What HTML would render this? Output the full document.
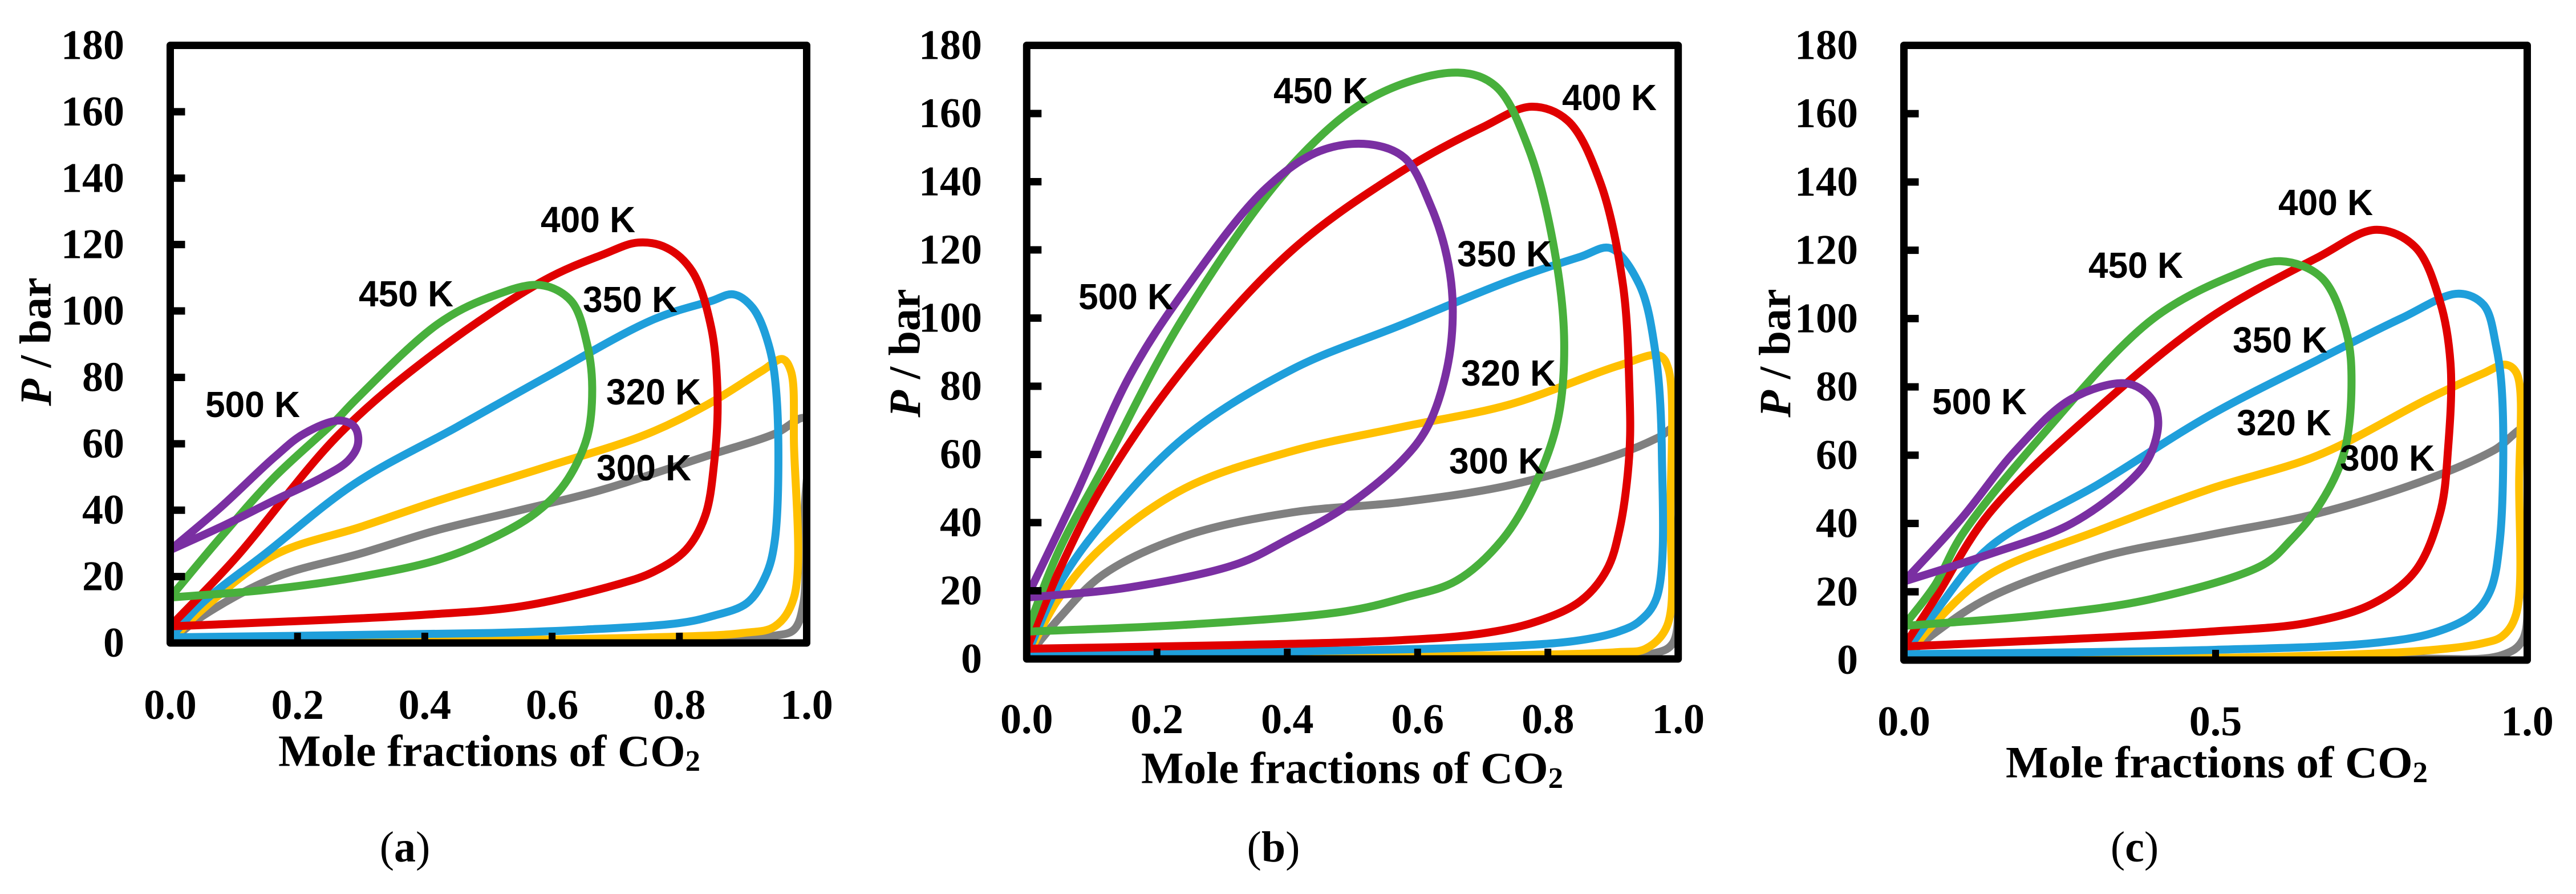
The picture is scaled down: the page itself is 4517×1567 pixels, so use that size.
<!DOCTYPE html>
<html><head><meta charset="utf-8"><style>
html,body{margin:0;padding:0;background:#fff;}
svg{display:block;}
</style></head><body>
<svg id="fig" width="4517" height="1567" viewBox="0 0 4517 1567" xmlns="http://www.w3.org/2000/svg"></svg>
<script>
// ---- data: [mole fraction CO2, pressure bar] loops ----
const temps = ['300 K','320 K','350 K','400 K','450 K','500 K'];
const yTicks = [0,20,40,60,80,100,120,140,160,180];
const xTicksAB = [0,0.2,0.4,0.6,0.8,1.0];
const xTickLabelsAB = ['0.0','0.2','0.4','0.6','0.8','1.0'];
const xTicksC = [0,0.5,1.0];
const xTickLabelsC = ['0.0','0.5','1.0'];

const A300 = [[0,0.5],[0.05,8],[0.164,19.7],[0.3,27],[0.42,34],[0.55,40],[0.676,46],[0.846,56.5],[0.95,63],[0.998,67.6],[0.997,40],[0.995,12],[0.98,4],[0.95,2.2],[0.8,0.8],[0.5,0.2],[0,0.2]];
const A320 = [[0,0.5],[0.05,10],[0.164,26.5],[0.3,35],[0.42,42.8],[0.59,53],[0.75,63],[0.846,72],[0.93,82],[0.962,85.5],[0.975,82],[0.98,60],[0.98,13.7],[0.95,5],[0.9,3],[0.76,1.7],[0.4,0.6],[0,0.3]];
const A350 = [[0,1.5],[0.05,12],[0.15,27],[0.29,48],[0.45,65],[0.59,80],[0.76,97.5],[0.85,103],[0.885,105],[0.915,101],[0.94,90],[0.953,73.6],[0.95,31],[0.935,20],[0.906,12],[0.85,8],[0.8,6],[0.65,4],[0.505,3],[0,1.7]];
const A400 = [[0,5],[0.1,25],[0.266,63],[0.42,88],[0.59,109.5],[0.68,117],[0.735,120.6],[0.78,119],[0.82,112],[0.85,95],[0.86,73.6],[0.855,55],[0.84,38],[0.81,28],[0.76,21.5],[0.7,17.5],[0.55,11],[0.4,8.5],[0.25,7],[0,5]];
const A450 = [[0,13.7],[0.08,32],[0.164,50],[0.26,67],[0.29,73],[0.42,96],[0.5,104],[0.582,107.8],[0.63,103],[0.655,90],[0.663,77],[0.655,62],[0.62,48],[0.573,39],[0.5,31],[0.42,25],[0.3,20],[0.15,16],[0,13.7]];
const A500 = [[0,28],[0.08,41],[0.164,56],[0.21,63],[0.266,67],[0.29,65],[0.295,60],[0.28,55],[0.24,50],[0.164,43],[0.08,35],[0,28]];

const B300 = [[0,0.5],[0.05,12],[0.117,24.7],[0.242,36],[0.408,43],[0.575,46],[0.742,51],[0.908,60],[0.97,65],[0.998,68],[0.997,30],[0.992,4.7],[0.96,1.5],[0.8,0.4],[0,0.2]];
const B320 = [[0,0.5],[0.05,18],[0.117,33],[0.242,50],[0.408,61],[0.575,68],[0.742,74.7],[0.908,86],[0.971,89],[0.985,85],[0.988,43],[0.983,9.7],[0.95,3],[0.908,2],[0.6,0.8],[0,0.4]];
const B350 = [[0,1.3],[0.05,22],[0.117,40],[0.242,65],[0.408,85],[0.575,98],[0.742,111],[0.85,118],[0.896,120.5],[0.94,110],[0.965,90],[0.975,60],[0.967,18],[0.94,11],[0.908,8],[0.85,5.5],[0.742,3.8],[0.4,2.2],[0,1.3]];
const B400 = [[0,3],[0.05,26],[0.117,51],[0.24,85],[0.408,120],[0.575,143],[0.7,156],[0.775,162],[0.83,158],[0.88,140],[0.915,110],[0.925,80],[0.925,60],[0.91,38],[0.89,26],[0.85,17],[0.783,11],[0.7,7.5],[0.575,5.5],[0.3,4],[0,3]];
const B450 = [[0,8],[0.05,32],[0.117,56],[0.24,100],[0.408,145],[0.533,165],[0.662,172],[0.72,168],[0.77,150],[0.81,120],[0.825,93],[0.815,70],[0.78,51],[0.73,35],[0.66,23],[0.58,18],[0.49,14],[0.24,10],[0,8]];
const B500 = [[0,18],[0.075,48],[0.158,83],[0.242,108],[0.367,138],[0.45,149],[0.525,151],[0.58,147],[0.62,133],[0.645,118],[0.654,103],[0.645,85],[0.615,68],[0.575,58],[0.49,44.7],[0.4,35],[0.325,28],[0.158,21],[0,18]];

const C300 = [[0,0.5],[0.05,8],[0.137,18.3],[0.313,30],[0.489,36.6],[0.665,43],[0.841,53],[0.947,61.5],[1.0,68],[0.998,30],[0.993,6],[0.96,1.5],[0.8,0.4],[0,0.2]];
const C320 = [[0,0.3],[0.05,11],[0.137,25],[0.313,38],[0.489,50],[0.665,60],[0.841,76.5],[0.93,84],[0.965,86.5],[0.983,84],[0.987,51.6],[0.982,13.3],[0.96,7],[0.93,5],[0.85,3],[0.6,1],[0,0.3]];
const C350 = [[0,1.7],[0.05,14],[0.137,33],[0.313,51.6],[0.489,71.5],[0.665,88],[0.797,100],[0.89,107.3],[0.93,104],[0.95,92],[0.96,76.5],[0.956,35],[0.94,20],[0.912,13.3],[0.85,8],[0.753,5],[0.5,3],[0,1.7]];
const C400 = [[0,4],[0.05,18],[0.137,43],[0.313,74],[0.489,100],[0.665,118],[0.758,126],[0.82,121],[0.86,105],[0.877,86.5],[0.873,62],[0.86,43],[0.82,26],[0.753,16.6],[0.65,11],[0.489,8.3],[0.225,5.8],[0,4]];
const C450 = [[0,10],[0.05,22],[0.093,36.6],[0.225,66.5],[0.4,100],[0.533,113],[0.604,116.8],[0.67,112],[0.71,96],[0.718,80],[0.705,60],[0.665,45],[0.62,35],[0.577,28],[0.4,18],[0.225,13.3],[0,10]];
const C500 = [[0,23],[0.093,41.6],[0.18,61.5],[0.269,76.5],[0.357,81],[0.395,77],[0.408,70],[0.395,60],[0.366,53],[0.269,40],[0.137,31],[0,23]];

// ---- styling / layout ----
const colors = ['#808080','#FFC000','#1F9FDB','#E00000','#48B03C','#7A2FA2'];
const NS = 'http://www.w3.org/2000/svg';
const svg = document.getElementById('fig');
const panels = [
  {id:'a', x0:298.5, x1:1414.5, y0:1127, y1:79.5, xt:xTicksAB, xl:xTickLabelsAB, tly:1236, tx:858, ty:1316, cx:710, cy:1485, ylx:62, yly:599, yr:218,
   series:[A300,A320,A350,A400,A450,A500],
   labels:[[1129,820],[1146,687],[1105,525],[1031,385],[712,515],[443,709]]},
  {id:'b', x0:1800.3, x1:2942.7, y0:1155, y1:79.5, xt:xTicksAB, xl:xTickLabelsAB, tly:1261, tx:2371, ty:1346, cx:2233, cy:1485, ylx:1586, yly:619, yr:1722,
   series:[B300,B320,B350,B400,B450,B500],
   labels:[[2624,808],[2645,654],[2638,445],[2822,171],[2316,159],[1974,520]]},
  {id:'c', x0:3338.5, x1:4431.5, y0:1157, y1:79.5, xt:xTicksC, xl:xTickLabelsC, tly:1265, tx:3887, ty:1336, cx:3743, cy:1485, ylx:3112, yly:619, yr:3258,
   series:[C300,C320,C350,C400,C450,C500],
   labels:[[4186,803],[4005,741],[3998,596],[4078,355],[3745,465],[3471,704]]}
];
function mk(tag, attrs, parent){
  const e = document.createElementNS(NS, tag);
  for (const k in attrs) e.setAttribute(k, attrs[k]);
  (parent||svg).appendChild(e);
  return e;
}
function dist(a,b){ return Math.pow(Math.hypot(a[0]-b[0], a[1]-b[1]), 0.5); }
function smoothPath(pts){
  let d = 'M' + pts[0][0].toFixed(1) + ' ' + pts[0][1].toFixed(1);
  for (let i=0;i<pts.length-1;i++){
    const p0 = pts[Math.max(0,i-1)], p1 = pts[i], p2 = pts[i+1], p3 = pts[Math.min(pts.length-1,i+2)];
    const d1 = dist(p0,p1), d2 = dist(p1,p2) || 1e-6, d3 = dist(p2,p3);
    let c1, c2;
    if (d1 < 1e-6) c1 = [p1[0]+(p2[0]-p1[0])/3, p1[1]+(p2[1]-p1[1])/3];
    else {
      const den = 3*d1*(d1+d2), k = 2*d1*d1 + 3*d1*d2 + d2*d2;
      c1 = [(d1*d1*p2[0] - d2*d2*p0[0] + k*p1[0])/den, (d1*d1*p2[1] - d2*d2*p0[1] + k*p1[1])/den];
    }
    if (d3 < 1e-6) c2 = [p2[0]-(p2[0]-p1[0])/3, p2[1]-(p2[1]-p1[1])/3];
    else {
      const den = 3*d3*(d3+d2), k = 2*d3*d3 + 3*d3*d2 + d2*d2;
      c2 = [(d3*d3*p1[0] - d2*d2*p3[0] + k*p2[0])/den, (d3*d3*p1[1] - d2*d2*p3[1] + k*p2[1])/den];
    }
    d += ' C' + c1[0].toFixed(1)+' '+c1[1].toFixed(1)+' '+c2[0].toFixed(1)+' '+c2[1].toFixed(1)+' '+p2[0].toFixed(1)+' '+p2[1].toFixed(1);
  }
  return d + ' Z';
}
const serif = '"Liberation Serif", serif';
const sans = '"Liberation Sans", sans-serif';

panels.forEach(function(P){
  const g = mk('g', {});
  
  
  const sx = v => P.x0 + v*(P.x1-P.x0);
  const sy = v => P.y0 - v/180*(P.y0-P.y1);
  const cp = mk('clipPath', {id:'clip'+P.id}, g);
  mk('rect', {x:P.x0, y:P.y1, width:P.x1-P.x0, height:P.y0-P.y1}, cp);
  const cg = mk('g', {'clip-path':'url(#clip'+P.id+')'}, g);
  P.series.forEach(function(s, i){
    const pts = s.map(p => [sx(p[0]), sy(p[1])]);
    const path = mk('path', {d:smoothPath(pts), fill:'none', stroke:colors[i], 'stroke-width':14, 'stroke-linejoin':'round'}, cg);
    
    
  });
  const fr = mk('rect', {x:P.x0, y:P.y1, width:P.x1-P.x0, height:P.y0-P.y1, fill:'none', stroke:'#000', 'stroke-width':13, 'stroke-linejoin':'round'}, g);
  
  
  yTicks.forEach(function(t){
    const y = sy(t);
    if (t>0 && t<180) mk('line', {x1:P.x0, x2:P.x0+26, y1:y, y2:y, stroke:'#000', 'stroke-width':13}, g);
    const tx = mk('text', {x:P.yr, y:y, 'text-anchor':'end', 'dominant-baseline':'central', 'font-family':serif, 'font-weight':'bold', 'font-size':74}, g);
    tx.textContent = String(t);
    
    
  });
  P.xt.forEach(function(t, k){
    const x = sx(t);
    if (t>0 && t<1) mk('line', {x1:x, x2:x, y1:P.y0, y2:P.y0-18, stroke:'#000', 'stroke-width':12}, g);
    const tx = mk('text', {x:x, y:P.tly, 'text-anchor':'middle', 'dominant-baseline':'central', 'font-family':serif, 'font-weight':'bold', 'font-size':74}, g);
    tx.textContent = P.xl[k];
    
    
  });
  const xt = mk('text', {x:P.tx, y:P.ty, 'text-anchor':'middle', 'dominant-baseline':'central', 'font-family':serif, 'font-weight':'bold', 'font-size':78, textLength:740, lengthAdjust:'spacingAndGlyphs'}, g);
  xt.innerHTML = 'Mole fractions of CO<tspan font-size="52" dy="18">2</tspan>';
  
  
  const yt = mk('text', {x:0, y:0, 'text-anchor':'middle', 'dominant-baseline':'central', 'font-family':serif, 'font-weight':'bold', 'font-size':78, transform:'translate('+P.ylx+','+P.yly+') rotate(-90)'}, g);
  yt.innerHTML = '<tspan font-style="italic">P</tspan> / bar';
  
  
  P.labels.forEach(function(L, i){
    const t = mk('text', {x:L[0], y:L[1], 'text-anchor':'middle', 'dominant-baseline':'central', 'font-family':sans, 'font-weight':'bold', 'font-size':64, textLength:166, lengthAdjust:'spacingAndGlyphs'}, g);
    t.textContent = temps[i];
    
    
  });
  const c = mk('text', {x:P.cx, y:P.cy, 'text-anchor':'middle', 'dominant-baseline':'central', 'font-family':serif, 'font-size':76}, g);
  c.innerHTML = '(<tspan font-weight="bold">' + P.id + '</tspan>)';
  
  
});
</script>
</body></html>
